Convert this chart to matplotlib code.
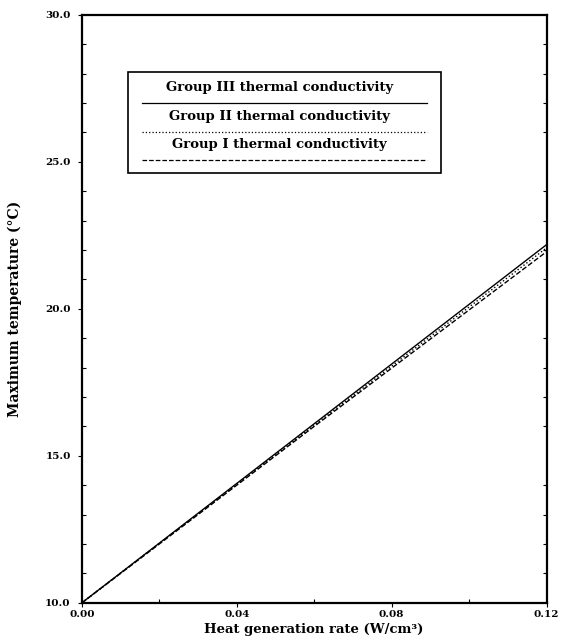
import numpy as np
import matplotlib
matplotlib.use("Agg")
import matplotlib.pyplot as plt
from matplotlib.patches import Rectangle
from matplotlib.ticker import MultipleLocator

# data
q = [0.00, 0.02, 0.04, 0.06, 0.08, 0.10, 0.12]
t_group3 = [10.0, 12.03, 14.06, 16.09, 18.12, 20.15, 22.18]
t_group2 = [10.0, 12.02, 14.03, 16.04, 18.05, 20.06, 22.07]
t_group1 = [10.0, 12.00, 14.00, 16.00, 17.98, 19.96, 21.94]

labels = ["Group III thermal conductivity",
          "Group II thermal conductivity",
          "Group I thermal conductivity"]
styles = ["-", ":", "--"]
xticks = [0.00, 0.04, 0.08, 0.12]
yticks = [10.0, 15.0, 20.0, 25.0, 30.0]

plt.rcParams['font.family'] = ['DejaVu Serif']
plt.rcParams['font.weight'] = 'bold'

fig = plt.figure(figsize=(5.64, 6.4), dpi=100)
ax = fig.add_axes([0.145, 0.058, 0.824, 0.919])

for y, ls in zip([t_group3, t_group2, t_group1], styles):
    ax.plot(q, y, color="black", linestyle=ls, linewidth=1.0)

ax.set_xlim(0, 0.12)
ax.set_ylim(10, 30)
ax.set_xticks(xticks)
ax.set_xticklabels([f"{v:.2f}" for v in xticks], fontsize=7.5, fontweight='bold')
ax.set_yticks(yticks)
ax.set_yticklabels([f"{v:.1f}" for v in yticks], fontsize=7.5, fontweight='bold')
ax.xaxis.set_minor_locator(MultipleLocator(0.02))
ax.yaxis.set_minor_locator(MultipleLocator(1.0))
ax.tick_params(which='major', direction='out', length=3, width=0.8, pad=5)
ax.tick_params(axis='x', which='major', pad=2)
ax.tick_params(which='minor', direction='in', length=3, width=0.8, right=True)
for s in ax.spines.values():
    s.set_linewidth(1.6)

ax.set_xlabel("Heat generation rate (W/cm³)", fontsize=9.5, fontweight='bold', va='center')
ax.xaxis.set_label_coords(0.5, -0.046)
ax.set_ylabel("Maximum temperature (°C)", fontsize=10, fontweight='bold')
ax.yaxis.set_label_coords(-0.128, 0.5)

# legend drawn as in the original: text above each line sample
ax.add_patch(Rectangle((0.099, 0.731), 0.675, 0.172, transform=ax.transAxes,
                       fill=False, edgecolor="black", linewidth=1.2))
text_y = [0.876, 0.827, 0.779]
line_y = [0.850, 0.801, 0.753]
for lab, ls, ty, ly in zip(labels, styles, text_y, line_y):
    ax.text(0.426, ty, lab, transform=ax.transAxes, ha='center', va='center',
            fontsize=9.5, fontweight='bold')
    ax.plot([0.129, 0.742], [ly, ly], transform=ax.transAxes, color="black",
            linestyle=ls, linewidth=0.9)

fig.savefig("out.png", dpi=100)
